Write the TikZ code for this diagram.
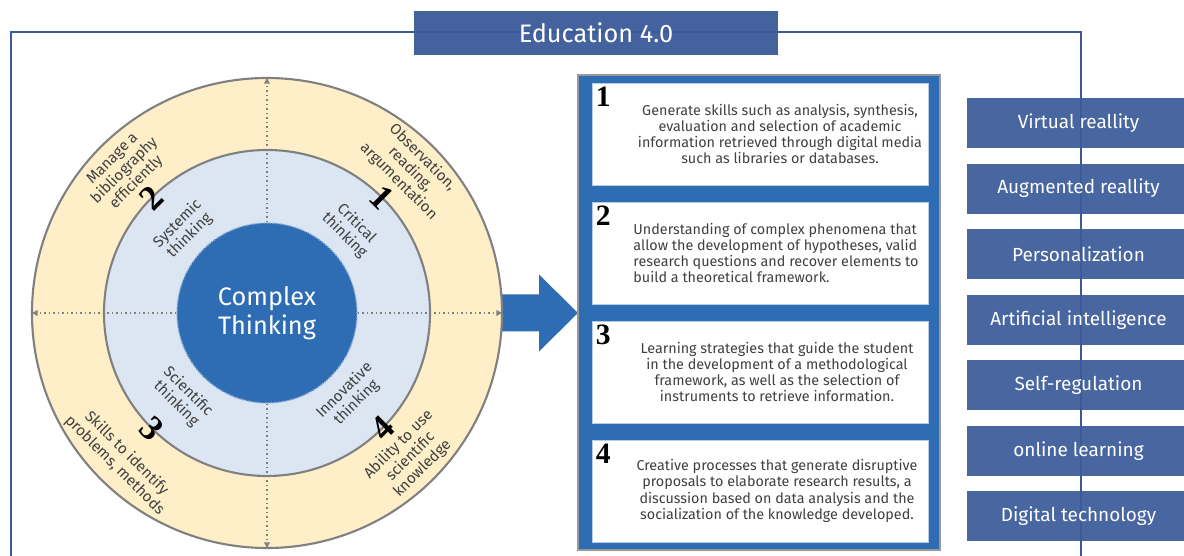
\documentclass[tikz,border=0pt]{standalone}
\usepackage{fontspec}
\setmainfont{Fira Sans}
\newfontfamily\digitfont{Liberation Serif}
\usetikzlibrary{arrows.meta,positioning}
\definecolor{slate}{HTML}{3A5A98}
\definecolor{ocean}{HTML}{2E6DB4}
\definecolor{cream}{HTML}{FEEFC9}
\definecolor{mist}{HTML}{DCE6F3}
\definecolor{rim}{HTML}{808080}
\definecolor{ink}{HTML}{404040}
\tikzset{
	outerlabel/.style={text=ink, align=center, font=\fontsize{10.8}{12}\selectfont},
	innerlabel/.style={text=ink, align=center, font=\fontsize{10.8}{12}\selectfont},
	ringnum/.style={font=\digitfont\bfseries\fontsize{25}{25}\selectfont, inner sep=0pt},
	cardnum/.style={font=\digitfont\bfseries\fontsize{21}{21}\selectfont, inner sep=0pt, anchor=north west},
	card/.style={draw=ocean!35, fill=white, minimum width=8.4cm, minimum height=2.55cm},
	cardtext/.style={text=ink, align=center, font=\fontsize{10.2}{11.6}\selectfont},
	techbox/.style={fill=slate, fill opacity=0.93, text opacity=1, text=white, minimum width=5.575cm, minimum height=1.25cm, font=\fontsize{13.5}{15}\selectfont},
	spoke/.style={rim, dotted, line width=1.2pt, -{Triangle[length=4pt,width=4pt]}},
}
\begin{document}
\begin{tikzpicture}[x=0.025cm,y=0.025cm]
		\useasboundingbox (0,0) rectangle (1184,556);
		\draw[slate, line width=2pt] (11,0) -- (11,524) -- (1081,524) -- (1081,0);
		\node[techbox] (tech-1) at (1078.5,433) {Virtual reallity};
		\node[techbox, below=0.375cm of tech-1] (tech-2) {Augmented reallity};
		\node[techbox, below=0.375cm of tech-2] (tech-3) {Personalization};
		\node[techbox, below=0.375cm of tech-3] (tech-4) {Artificial intelligence};
		\node[techbox, below=0.375cm of tech-4] (tech-5) {Self-regulation};
		\node[techbox, below=0.375cm of tech-5] (tech-6) {online learning};
		\node[techbox, below=0.375cm of tech-6] (tech-7) {Digital technology};
		\node[fill=slate, fill opacity=0.95, text opacity=1, text=white, minimum width=9.075cm, minimum height=1.1cm, font=\fontsize{18}{18}\selectfont] (title) at (596,523) {Education 4.0};
		\fill[ocean] (498,224.5) -- (539,224.5) -- (539,204.5) -- (578,243) -- (539,281.5) -- (539,261.5) -- (498,261.5) -- cycle;
		\coordinate (o) at (267,243);
		\filldraw[fill=cream, draw=rim, line width=1.5pt] (o) circle (235);
		\filldraw[fill=mist, draw=rim, line width=1.5pt] (o) circle (163);
		\draw (o) node[circle, fill=ocean, draw=mist!55!ocean, densely dotted, line width=1pt, minimum size=4.5cm, text=white, align=center, font=\fontsize{18}{21}\selectfont](core){Complex\\Thinking};
		\coordinate (n-out) at (267,478);
		\coordinate (s-out) at (267,8);
		\coordinate (w-out) at (32,243);
		\coordinate (e-out) at (502,243);
		\draw[spoke] (core.north) -- (n-out);
		\draw[spoke] (core.south) -- (s-out);
		\draw[spoke] (core.west) -- (w-out);
		\draw[spoke] (core.east) -- (e-out);
		\node[innerlabel, rotate=-45] (think-1) at ([shift={(45:118)}]o) {Critical\\thinking};
		\node[innerlabel, rotate=45] (think-2) at ([shift={(135:118)}]o) {Systemic\\thinking};
		\node[innerlabel, rotate=-45] (think-3) at ([shift={(225:120)}]o) {Scientific\\thinking};
		\node[innerlabel, rotate=45] (think-4) at ([shift={(315:118)}]o) {Innovative\\thinking};
		\node[outerlabel, rotate=-45] (skill-1) at ([shift={(45:203)}]o) {Observation,\\reading,\\argumentation};
		\node[outerlabel, rotate=45] (skill-2) at ([shift={(135:201)}]o) {Manage a\\bibliography\\efficiently};
		\node[outerlabel, rotate=-45] (skill-3) at ([shift={(225:207)}]o) {Skills to identify\\problems, methods};
		\node[outerlabel, rotate=45] (skill-4) at ([shift={(315:203)}]o) {Ability to use\\scientific\\knowledge};
		\node[ringnum, rotate=-45] (ring-1) at ([shift={(45:163)}]o) {1};
		\node[ringnum, rotate=45] (ring-2) at ([shift={(135:163)}]o) {2};
		\node[ringnum, rotate=-45] (ring-3) at ([shift={(225:163)}]o) {3};
		\node[ringnum, rotate=45] (ring-4) at ([shift={(315:163)}]o) {4};
		\node[fill=ocean, draw=rim!80, line width=1.5pt, minimum width=9.05cm, minimum height=11.875cm] (panel) at (759,243.5) {};
		\node[card] (card-1) at (760,422) {};
		\node[card] (card-2) at (760,303) {};
		\node[card] (card-3) at (760,184) {};
		\node[card] (card-4) at (760,65) {};
		\node[cardnum] (num-1) at ([shift={(4,-4)}]card-1.north west) {1};
		\node[cardnum] (num-2) at ([shift={(4,-4)}]card-2.north west) {2};
		\node[cardnum] (num-3) at ([shift={(4,-4)}]card-3.north west) {3};
		\node[cardnum] (num-4) at ([shift={(4,-4)}]card-4.north west) {4};
		\node[cardtext] (text-1) at ([shift={(20,0)}]card-1.center) {Generate skills such as analysis, synthesis,\\evaluation and selection of academic\\information retrieved through digital media\\such as libraries or databases.};
		\node[cardtext, align=left] (text-2) at ([shift={(16,0)}]card-2.center) {Understanding of complex phenomena that\\allow the development of hypotheses, valid\\research questions and recover elements to\\build a theoretical framework.};
		\node[cardtext] (text-3) at ([shift={(17,0)}]card-3.center) {Learning strategies that guide the student\\in the development of a methodological\\framework, as well as the selection of\\instruments to retrieve information.};
		\node[cardtext] (text-4) at ([shift={(17,0)}]card-4.center) {Creative processes that generate disruptive\\proposals to elaborate research results, a\\discussion based on data analysis and the\\socialization of the knowledge developed.};
	\end{tikzpicture}
\end{document}
